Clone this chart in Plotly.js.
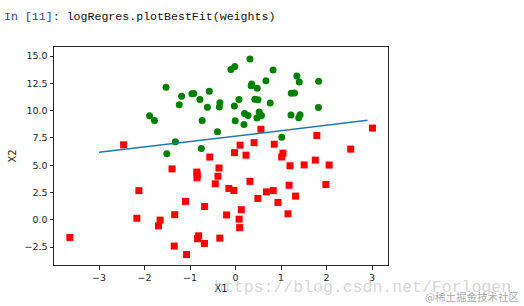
<!DOCTYPE html>
<html>
<head>
<meta charset="utf-8">
<script src="https://cdn.plot.ly/plotly-3.0.1.min.js"></script>
<style>html,body{margin:0;padding:0;background:#fff;}#chart{width:524px;height:306px;}</style>
</head>
<body>
<div id="chart"></div>
<script>
// Class 1 (red squares)
const redX = [-1.395634,0.406704,-2.460150,0.850433,1.176813,-0.566606,0.931635,-0.024205,-0.036453,-0.196949,
  1.014459,1.985298,-1.693453,-0.346811,-2.124484,-3.642001,0.315985,-0.386323,0.556921,-1.347803,
  1.196604,-0.445678,1.042222,1.152083,0.828534,-0.683565,0.229456,1.507278,0.099671,1.785928,
  -0.364009,-0.841722,0.490426,-0.810823,2.530777,-1.337472,-0.147324,-1.658086,1.319944,2.056216,
  -0.851633,-1.076637,3.010150,-1.099458,-0.834872,-0.846637,1.752842,0.078557,0.089392,0.126117,
  -0.679797,0.677983,-2.168791];
const redY = [4.662541,7.067335,6.866805,6.920334,3.167020,5.749003,1.589505,6.151823,2.690988,0.444165,
  5.754399,3.230619,-0.557540,-1.678730,2.672471,-1.618087,3.523953,3.989286,8.294984,-2.406051,
  4.951851,3.297303,6.105155,0.548467,2.676045,-2.166125,5.921938,5.027866,6.835839,7.718645,
  4.747300,4.119083,1.960539,-1.466018,6.476801,0.468339,2.874846,-0.027255,2.171228,5.019981,
  4.375691,-3.181888,8.401766,1.688274,-1.733869,3.849075,5.468166,0.059736,-0.715300,0.922311,
  1.220530,2.556666,0.143632];
// Class 0 (green circles)
const greenX = [-0.017612,-0.752157,-1.322371,0.423363,0.667394,0.569411,-0.026632,1.347183,-1.781871,-0.576525,
  1.217916,-0.733928,1.416614,1.224863,0.275221,0.470575,-1.889567,-1.527893,-1.185247,-0.618787,
  -1.237728,-0.959885,0.492911,0.184992,-0.355715,-0.397822,0.824839,-0.344008,-0.918801,-0.007194,
  0.356107,0.342578,1.296683,0.475487,-0.783277,0.074798,-0.102781,0.518389,1.015399,-1.510047,
  1.821096,1.400102,1.825662,0.197445,0.761349,1.388610,0.317029];
const greenY = [14.053064,6.538620,7.152853,11.054677,12.741452,9.548755,10.427743,13.175500,9.097953,11.778922,
  9.597015,9.098687,9.619232,11.587360,9.543647,9.332488,9.542662,12.150579,11.309318,10.320986,
  10.549033,11.555336,10.993324,8.721488,10.325976,8.058397,13.730343,10.717485,11.560217,9.075792,
  12.447863,12.281162,11.607559,12.040035,11.009725,11.023650,13.763651,9.887035,7.571882,6.061992,
  10.283990,12.628781,12.693808,9.744638,10.693862,9.341997,14.739025];
// Best-fit boundary line endpoints
const lineX = [-3.0, 2.9];
const lineY = [6.18, 9.11];
const xTicks = [-3,-2,-1,0,1,2,3];
const yTicks = [-2.5,0,2.5,5,7.5,10,12.5,15];

const data = [
  {x: redX, y: redY, type: 'scatter', mode: 'markers',
   marker: {symbol: 'square', color: '#ff0000', size: 7}, hoverinfo: 'skip'},
  {x: greenX, y: greenY, type: 'scatter', mode: 'markers',
   marker: {symbol: 'circle', color: '#008000', size: 7}, hoverinfo: 'skip'},
  {x: lineX, y: lineY, type: 'scatter', mode: 'lines',
   line: {color: '#1f77b4', width: 1.5}, hoverinfo: 'skip'}
];

const axisCommon = {
  showline: true, mirror: true, linecolor: '#262626', linewidth: 1,
  showgrid: false, zeroline: false, ticks: 'outside', ticklen: 3.5, tickwidth: 1,
  tickcolor: '#262626', tickfont: {family: 'DejaVu Sans', size: 9.5, color: '#262626'}
};

const layout = {
  width: 524, height: 306,
  margin: {l: 54, r: 136, t: 47, b: 41, pad: 0},
  paper_bgcolor: '#ffffff', plot_bgcolor: '#ffffff',
  showlegend: false,
  xaxis: Object.assign({}, axisCommon, {
    range: [-3.99, 3.35], tickvals: xTicks, ticktext: xTicks.map(v => v < 0 ? '\u2212' + Math.abs(v) : String(v)),
    title: {text: 'X1', font: {family: 'DejaVu Sans', size: 10, color: '#262626'}, standoff: 3}
  }),
  yaxis: Object.assign({}, axisCommon, {
    range: [-4.14, 15.83], tickvals: yTicks, ticktext: yTicks.map(v => (v < 0 ? '\u2212' : '') + Math.abs(v).toFixed(1)),
    title: {text: 'X2', font: {family: 'DejaVu Sans', size: 10, color: '#262626'}, standoff: 6}
  }),
  annotations: [
    {xref: 'paper', yref: 'paper', x: -0.156, y: 1.142, xanchor: 'left', yanchor: 'middle', showarrow: false,
     text: '<span style="color:#303f9f">In [11]:</span> logRegres.plotBestFit(weights)',
     font: {family: 'Liberation Mono', size: 11.6, color: '#111111'}},
    {xref: 'paper', yref: 'paper', x: (212 - 54) / 334, y: (265.5 - 288) / 218.5, xanchor: 'left', yanchor: 'middle', showarrow: false,
     text: 'https://blog.csdn.net/Forlogen',
     font: {family: 'Liberation Mono', size: 16.5, color: 'rgba(180,180,180,0.55)'}},
    {xref: 'paper', yref: 'paper', x: (521 - 54) / 334, y: (265.5 - 297) / 218.5, xanchor: 'right', yanchor: 'middle', showarrow: false,
     text: '@稀土掘金技术社区',
     font: {family: 'Noto Sans CJK SC', size: 10.5, color: 'rgba(150,150,150,0.8)'}}
  ]
};

Plotly.newPlot('chart', data, layout, {staticPlot: true, displayModeBar: false});
</script>
</body>
</html>
